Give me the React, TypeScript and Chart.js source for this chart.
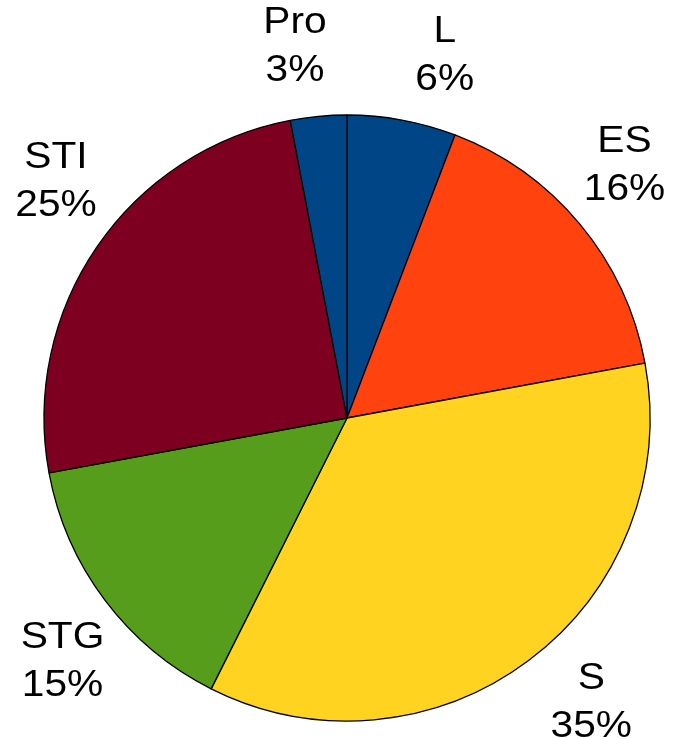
import React, { useEffect, useRef } from "react";
import { Chart, registerables } from "chart.js";

Chart.register(...registerables);

const categories = ["L", "ES", "S", "STG", "STI", "Pro"];
const values = [5.8, 16.3, 35.3, 14.7, 24.9, 3.0];
const percentLabels = ["6%", "16%", "35%", "15%", "25%", "3%"];
const colors = ["#004586", "#ff420e", "#ffd320", "#579d1c", "#7e0021", "#004586"];

const FONT = "37px 'Liberation Sans', Arial, sans-serif";
const LINE_H = 48;
const LABEL_DIST = 72;
const X_STRETCH = 1.1;

const outsideLabels = {
  id: "outsideLabels",
  afterDatasetsDraw(chart: any) {
    const ctx = chart.ctx;
    const meta = chart.getDatasetMeta(0);
    ctx.save();
    ctx.font = FONT;
    ctx.fillStyle = "#000";
    ctx.textAlign = "center";
    ctx.textBaseline = "middle";
    meta.data.forEach((arc: any, i: number) => {
      const { x, y, startAngle, endAngle, outerRadius } = arc.getProps(
        ["x", "y", "startAngle", "endAngle", "outerRadius"],
        true
      );
      const mid = (startAngle + endAngle) / 2;
      // rectangular labels drift toward the diagonals
      const a = mid + (7 * Math.PI / 180) * Math.sin(4 * mid);
      const d = outerRadius + LABEL_DIST;
      const cx = x + Math.cos(a) * d;
      const cy = y + Math.sin(a) * d;
      const lines = [categories[i], percentLabels[i]];
      const h = LINE_H * lines.length;
      lines.forEach((l, k) => {
        ctx.save();
        ctx.translate(cx, cy - h / 2 + LINE_H * (k + 0.5));
        ctx.scale(X_STRETCH, 1);
        ctx.fillText(l, 0, 0);
        ctx.restore();
      });
    });
    ctx.restore();
  },
};

export default function App() {
  const ref = useRef<HTMLCanvasElement>(null);
  useEffect(() => {
    if (!ref.current) return;
    const chart = new Chart(ref.current, {
      type: "pie",
      data: {
        labels: categories,
        datasets: [
          {
            data: values,
            backgroundColor: colors,
            borderColor: "#000000",
            borderWidth: 1.3,
          },
        ],
      },
      options: {
        responsive: false,
        animation: false,
        radius: 303,
        layout: { padding: { left: 40, right: 31, top: 100, bottom: 3 } },
        plugins: {
          legend: { display: false },
          tooltip: { enabled: false },
        },
      } as any,
      plugins: [outsideLabels],
    });
    return () => chart.destroy();
  }, []);
  return (
    <div style={{ position: "fixed", left: 0, top: 0, width: 685, height: 739, background: "#fff" }}>
      <canvas ref={ref} width={685} height={739} />
    </div>
  );
}
